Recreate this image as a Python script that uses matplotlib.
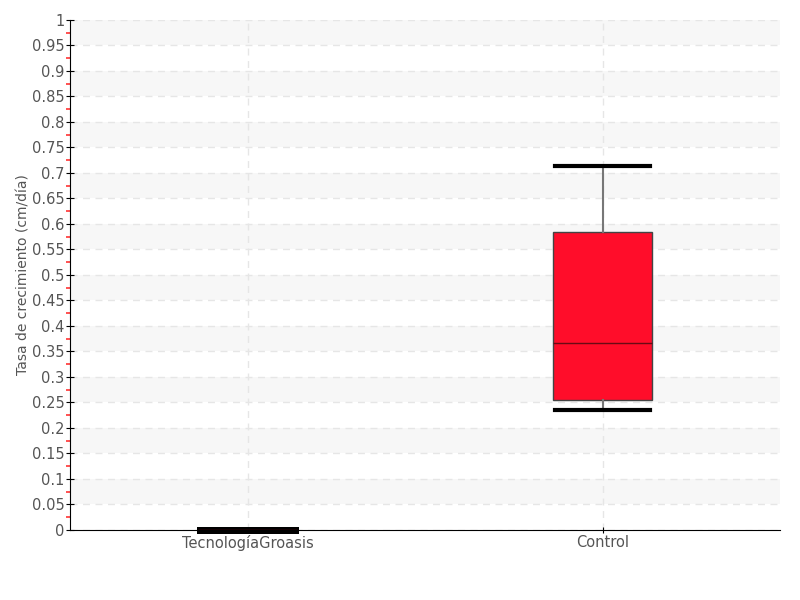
import matplotlib
matplotlib.use("Agg")
import matplotlib.pyplot as plt
import numpy as np

plt.rcParams['font.family'] = ['Liberation Sans Narrow', 'DejaVu Sans']

# datos del grafico
categorias = ["TecnologíaGroasis", "Control"]
minimos = [0.0, 0.235]
q1s = [0.0, 0.255]
medianas = [0.0, 0.367]
q3s = [0.0, 0.584]
maximos = [0.0, 0.714]

fig = plt.figure(figsize=(8, 6), dpi=100)
ax = fig.add_axes([0.0875, 0.1167, 0.8875, 0.85])

# bandas grises alternas
for y0 in np.arange(0.05, 1.0, 0.1):
    ax.axhspan(y0, y0 + 0.05, color="#f7f7f7", zorder=0, lw=0)

stats = []
for i in range(len(categorias)):
    stats.append({"whislo": minimos[i], "q1": q1s[i], "med": medianas[i],
                  "q3": q3s[i], "whishi": maximos[i], "fliers": [],
                  "label": categorias[i]})

bp = ax.bxp(stats, positions=[0, 1], widths=0.28, patch_artist=True,
            showfliers=False,
            boxprops=dict(facecolor="#ff0d2a", edgecolor="#444444", linewidth=1),
            medianprops=dict(color="#6a0a14", linewidth=1),
            whiskerprops=dict(color="#777777", linewidth=1.5),
            capprops=dict(color="black", linewidth=3),
            capwidths=0.27, zorder=3)
for c in bp["caps"]:
    c.set_clip_on(False)
bp["caps"][0].set_linewidth(5)
bp["caps"][1].set_linewidth(5)

ax.set_xlim(-0.5, 1.5)
ax.set_ylim(0, 1)
ax.set_yticks(np.arange(0, 1.0001, 0.05))
ax.set_yticklabels([f"{v:g}" for v in np.arange(0, 1.0001, 0.05).round(2)])
ax.set_yticks(np.arange(0.025, 1, 0.05), minor=True)
ax.tick_params(axis="y", which="major", direction="inout", length=6,
               labelsize=10.5, labelcolor="#555555", pad=1)
ax.tick_params(axis="y", which="minor", direction="out", length=3,
               width=1.2, color="#ff3333")
ax.tick_params(axis="x", which="major", direction="inout", length=5,
               labelsize=10.5, labelcolor="#555555", pad=1)

ax.grid(axis="both", linestyle=(0, (5, 4)), color="#e6e6e6", linewidth=1,
        zorder=1)
ax.set_axisbelow(True)
ax.spines["top"].set_visible(False)
ax.spines["right"].set_visible(False)

ax.set_ylabel("Tasa de crecimiento (cm/día)", fontsize=10, color="#555555",
              labelpad=1)

fig.savefig("out.png")
